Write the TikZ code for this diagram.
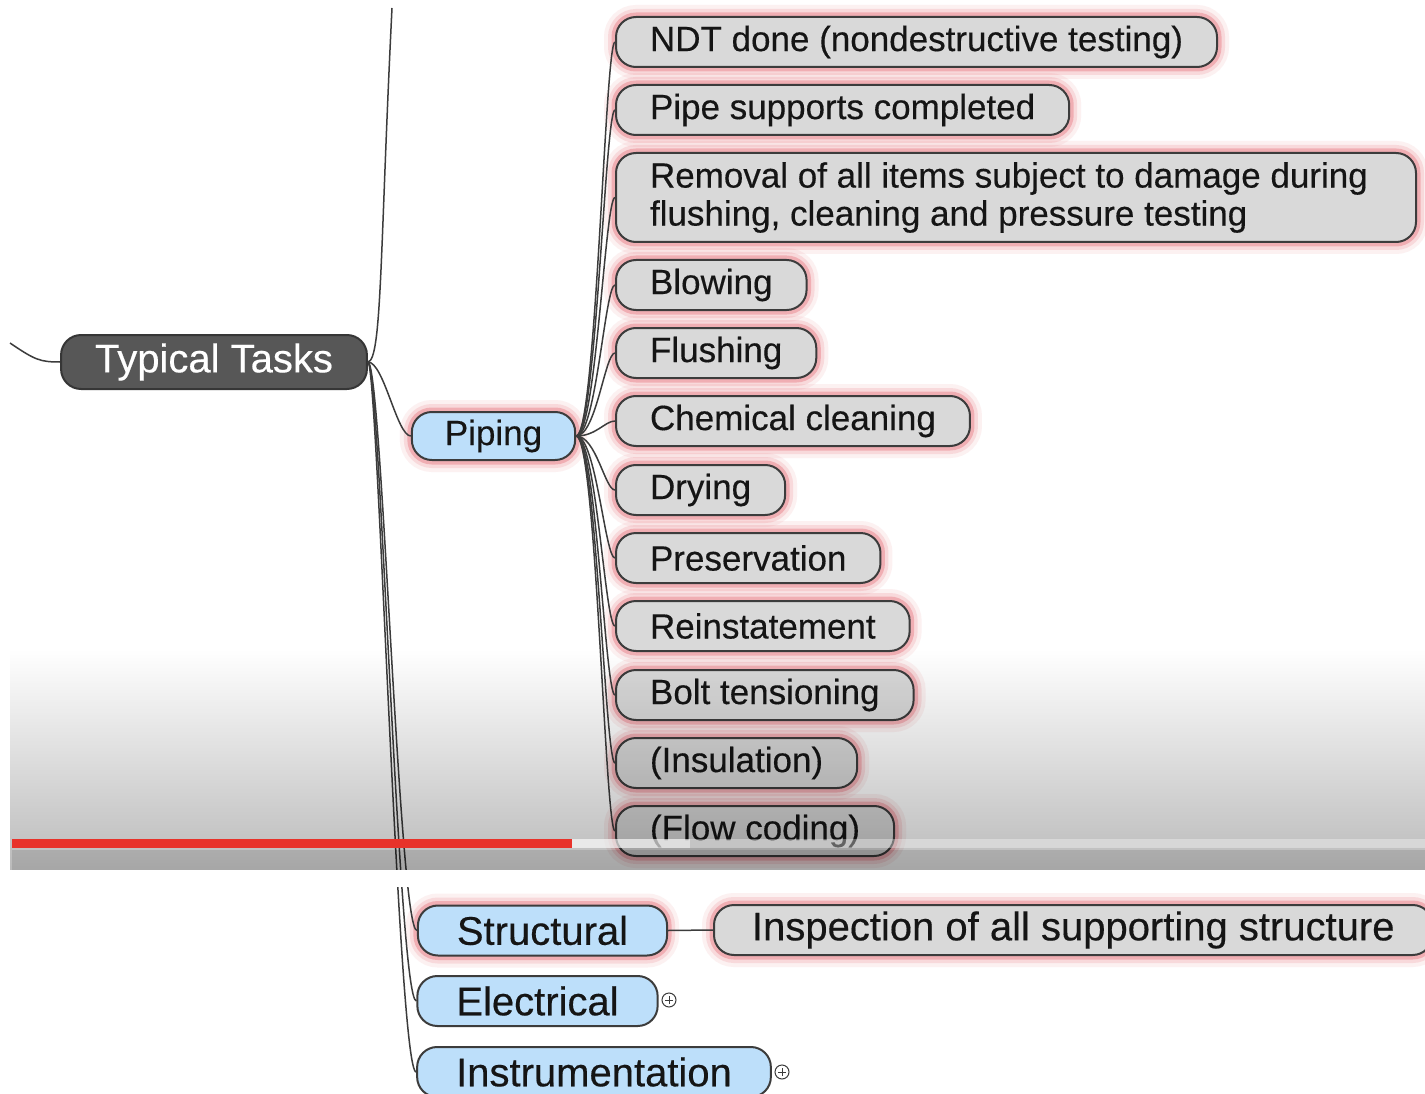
\documentclass[tikz,border=0pt]{standalone}
\usepackage{fontspec}
\setmainfont{Liberation Sans}[FakeBold=0.35]
\usetikzlibrary{fadings}

\definecolor{ttfill}{HTML}{575757}
\definecolor{ttline}{HTML}{363636}
\definecolor{bluefill}{HTML}{BDDFFA}
\definecolor{leaffill}{HTML}{D9D9D9}
\definecolor{edge}{HTML}{3C3C3C}
\definecolor{glow}{HTML}{E04D58}
\definecolor{ink}{HTML}{151515}
\definecolor{barred}{HTML}{E8322A}

\begin{document}
\begin{tikzpicture}[x=1pt,y=-1pt,
  glowing/.style={
    preaction={draw=glow, line width=24pt, draw opacity=0.08},
    preaction={draw=glow, line width=16pt, draw opacity=0.14},
    preaction={draw=glow, line width=9pt, draw opacity=0.30}},
  box/.style={draw=edge, line width=2pt, rounded corners=20pt,
    inner ysep=0pt, minimum height=50pt, text=ink},
  root/.style={box, fill=ttfill, draw=ttline, text=white, inner xsep=34pt,
    minimum height=54pt, font=\fontsize{40}{46}\selectfont},
  branch/.style={box, fill=bluefill, inner xsep=39pt,
    font=\fontsize{40}{46}\selectfont},
  leaf/.style={box, glowing, fill=leaffill, anchor=west, align=left,
    inner xsep=34pt, font=\fontsize{35}{38}\selectfont},
  conn/.style={draw=edge, line width=1.5pt},
  more/.style={circle, draw=edge, line width=1pt, minimum size=14pt, inner sep=0pt}
]
\useasboundingbox (0,0) rectangle (1425,1094);
\clip (0,0) rectangle (1425,1094);
\fill[white] (0,0) rectangle (1425,1094);

% central topic
\node[root] (tt) at (214,362) {Typical Tasks};

% main branches
\node[branch, glowing, inner xsep=33pt, minimum height=48pt,
  font=\fontsize{35}{40}\selectfont] (piping) at (493.5,436) {Piping};
\node[branch, glowing] (str) at (542.5,930.5) {Structural};
\node[branch] (ele) at (537.5,1001) {Electrical};
\node[branch] (ins) at (594,1072) {Instrumentation};

% piping sub-tasks
\node[leaf] (ndt)   at (615,42)    {NDT done (nondestructive testing)};
\node[leaf] (sup)   at (615,110)   {Pipe supports completed};
\node[leaf, minimum height=89pt] (rem) at (615,197.5)
  {\makebox[732pt][l]{Removal of all items subject to damage during}\\
   flushing, cleaning and pressure testing};
\node[leaf] (blow)  at (615,285)   {Blowing};
\node[leaf] (flush) at (615,353)   {Flushing};
\node[leaf] (chem)  at (615,421)   {Chemical cleaning};
\node[leaf] (dry)   at (615,490)   {Drying};
\node[leaf] (pres)  at (615,558)   {Preservation};
\node[leaf] (rein)  at (615,626)   {Reinstatement};
\node[leaf] (bolt)  at (615,695)   {Bolt tensioning};
\node[leaf] (insul) at (615,763)   {(Insulation)};
\node[leaf] (flow)  at (615,831)   {(Flow coding)};

% structural sub-task
\node[leaf, inner xsep=38pt, font=\fontsize{40}{46}\selectfont] (insp) at (713,930)
  {Inspection of all supporting structure};

% collapsed markers
\node[more] (eplus) at (669,1000) {};
\node[more] (iplus) at (782,1072) {};
\foreach \p in {eplus,iplus}{
  \draw[edge, line width=1pt] ([yshift=-4pt]\p.center) -- ([yshift=4pt]\p.center);
  \draw[edge, line width=1pt] ([xshift=-4pt]\p.center) -- ([xshift=4pt]\p.center);
}

% connectors of the central topic
\coordinate (in) at (10,343);
\coordinate (up) at (392,8);
\draw[conn] (in) .. controls (35,360) and (40,362) .. (tt.west);
\draw[conn] (tt.east) .. controls (382,360) and (380,250) .. (up);
\draw[conn] (tt.east) .. controls +(16,0) and +(-14,0) .. (piping.west);
\draw[conn] (tt.east) .. controls +(14,0) and +(-18,0) .. (str.west);
\draw[conn] (tt.east) .. controls +(12,0) and +(-18,0) .. (ele.west);
\draw[conn] (tt.east) .. controls +(10,0) and +(-18,0) .. (ins.west);

% connectors of the piping branch
\foreach \c in {ndt,sup,rem,blow,flush,chem,dry,pres,rein,bolt,insul,flow}{
  \draw[conn] (piping.east) .. controls +(20,0) and +(-10,0) .. (\c.west);
}
\draw[conn] (str.east) -- (insp.west);

% player controls overlay: darkening band and progress bar
\fill[black, fill opacity=0.27, path fading=north] (12,650) rectangle (1445,870);
\fill[black, fill opacity=0.10] (12,850) rectangle (1445,870);
\fill[white, fill opacity=0.35] (572,839) rectangle (1445,848);
\fill[white, fill opacity=0.45] (572,839) rectangle (690,848);
\fill[barred] (12,839) rectangle (572,848);
\fill[white] (0,870) rectangle (1445,887);
\end{tikzpicture}
\end{document}
